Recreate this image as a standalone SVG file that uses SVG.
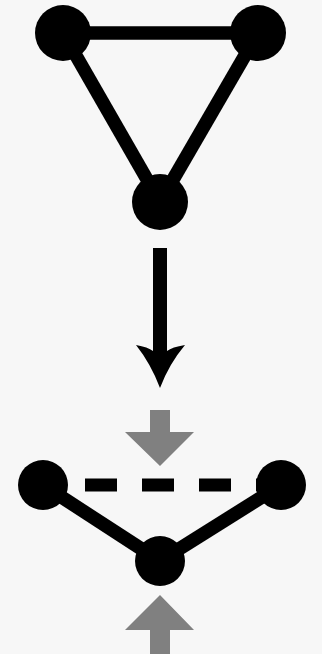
<svg xmlns="http://www.w3.org/2000/svg" width="322" height="654" viewBox="0 0 322 654">
<style>
.edge{stroke:#000;stroke-width:13.5;fill:none}
.dash{stroke:#000;stroke-width:13;fill:none;stroke-dasharray:32 25}
.node{fill:#000}
.gray{fill:#808080}
</style>
<rect width="322" height="654" fill="#f7f7f7"/>
<g id="connectors">
<line class="edge" x1="63" y1="33" x2="258" y2="33"/>
<line class="edge" x1="63" y1="33" x2="160" y2="202"/>
<line class="edge" x1="258" y1="33" x2="160" y2="202"/>
<path d="M153,248 H167 V351 Q172,347 185,345 Q169,364 160,388 Q151,364 136,345 Q148,347 153,351 Z" fill="#000"/>
<line class="dash" x1="85" y1="485" x2="281" y2="485"/>
<line class="edge" x1="43" y1="485" x2="160" y2="561"/>
<line class="edge" x1="281" y1="485" x2="160" y2="561"/>
</g>
<g id="n1"><circle class="node" cx="63" cy="33" r="28"/></g>
<g id="n2"><circle class="node" cx="258" cy="33" r="28"/></g>
<g id="n3"><circle class="node" cx="160" cy="202" r="28"/></g>
<g id="m1"><circle class="node" cx="43" cy="485" r="25"/></g>
<g id="m2"><circle class="node" cx="281" cy="485" r="25"/></g>
<g id="m3"><circle class="node" cx="160" cy="561" r="25"/></g>
<g id="press-top"><path class="gray" d="M150,410 H170 V432 H194 L160,466 L125,432 H150 Z"/></g>
<g id="press-bottom"><path class="gray" d="M150,654 H170 V630 H194 L160,595 L125,630 H150 Z"/></g>
</svg>
